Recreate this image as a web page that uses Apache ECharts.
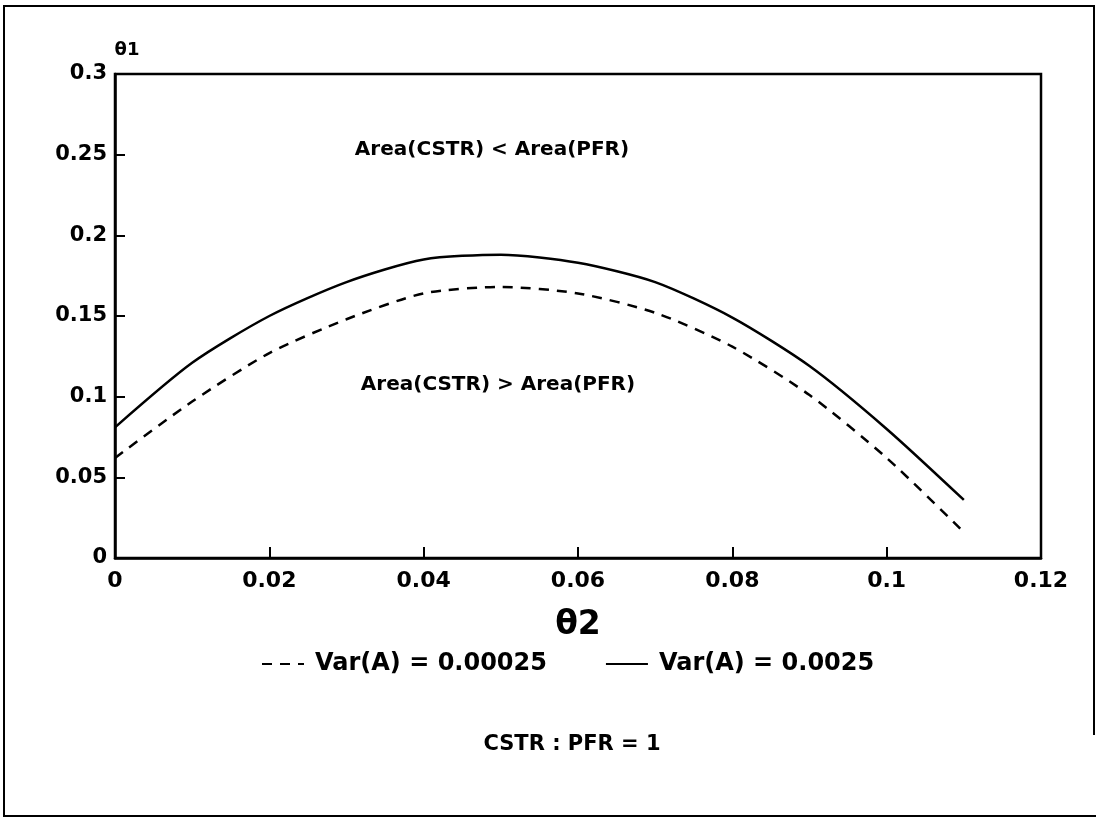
<!DOCTYPE html>
<html>
<head>
<meta charset="utf-8">
<script src="https://cdn.jsdelivr.net/npm/echarts@6/dist/echarts.min.js"></script>
<style>
html,body{margin:0;padding:0;background:#fff;}
#chart{width:1098px;height:820px;}
</style>
</head>
<body>
<div id="chart"></div>
<script>
// ---- data ----
const theta2 = [0, 0.01, 0.02, 0.03, 0.04, 0.05, 0.06, 0.07, 0.08, 0.09, 0.10, 0.11];
const varLow  = [0.062, 0.097, 0.127, 0.148, 0.164, 0.168, 0.164, 0.152, 0.131, 0.101, 0.062, 0.016]; // Var(A) = 0.00025 (dashed)
const varHigh = [0.081, 0.121, 0.150, 0.171, 0.185, 0.188, 0.183, 0.171, 0.149, 0.119, 0.080, 0.036]; // Var(A) = 0.0025 (solid)
const seriesNames = ['Var(A) = 0.00025', 'Var(A) = 0.0025'];
const xTickLabels = ['0', '0.02', '0.04', '0.06', '0.08', '0.1', '0.12'];
const yTickLabels = ['0', '0.05', '0.1', '0.15', '0.2', '0.25', '0.3'];
const regionLabels = ['Area(CSTR) < Area(PFR)', 'Area(CSTR) > Area(PFR)'];
const footnote = 'CSTR : PFR = 1';

const chart = echarts.init(document.getElementById('chart'));
const FONT = '"DejaVu Sans", sans-serif';
const pair = (xs, ys) => xs.map((x, i) => [x, ys[i]]);

chart.setOption({
  backgroundColor: '#ffffff',
  animation: false,
  grid: {
    left: 115, right: 57, top: 74, bottom: 262,
    show: true, borderColor: '#000', borderWidth: 2.5, backgroundColor: 'transparent'
  },
  xAxis: {
    type: 'value', min: 0, max: 0.12, interval: 0.02,
    name: 'θ2', nameLocation: 'middle', nameGap: 51,
    nameTextStyle: { fontFamily: FONT, fontWeight: 'bold', fontSize: 33, color: '#000' },
    axisLine: { lineStyle: { color: '#000', width: 2.5 } },
    axisTick: { inside: true, length: 11, lineStyle: { color: '#000', width: 2 } },
    axisLabel: {
      margin: 12, fontFamily: FONT, fontWeight: 'bold', fontSize: 22, color: '#000',
      formatter: v => xTickLabels[Math.round(v / 0.02)]
    },
    splitLine: { show: false }
  },
  yAxis: {
    type: 'value', min: 0, max: 0.3, interval: 0.05,
    name: 'θ1', nameLocation: 'end', nameGap: 15,
    nameTextStyle: { fontFamily: FONT, fontWeight: 'bold', fontSize: 18, color: '#000', padding: [0, 0, 0, 24] },
    axisLine: { show: true, lineStyle: { color: '#000', width: 2.5 } },
    axisTick: { show: true, inside: true, length: 10, lineStyle: { color: '#000', width: 2 } },
    axisLabel: {
      margin: 8, fontFamily: FONT, fontWeight: 'bold', fontSize: 21, color: '#000',
      formatter: v => yTickLabels[Math.round(v / 0.05)]
    },
    splitLine: { show: false }
  },
  legend: {
    top: 647, left: 256, itemWidth: 42, itemHeight: 14, itemGap: 58,
    itemStyle: { opacity: 0 },
    textStyle: { fontFamily: FONT, fontWeight: 'bold', fontSize: 24, color: '#000', padding: [0, 0, 0, 6] },
    data: seriesNames
  },
  series: [
    {
      name: seriesNames[0], type: 'line', showSymbol: false, symbol: 'none', smooth: 0.25,
      data: pair(theta2, varLow),
      lineStyle: { color: '#000', width: 2.5, type: [10, 8] },
      itemStyle: { color: '#000' }
    },
    {
      name: seriesNames[1], type: 'line', showSymbol: false, symbol: 'none', smooth: 0.25,
      data: pair(theta2, varHigh),
      lineStyle: { color: '#000', width: 2.5, type: 'solid' },
      itemStyle: { color: '#000' }
    }
  ],
  graphic: [
    { type: 'polyline', shape: { points: [[1094, 735], [1094, 6], [4, 6], [4, 816], [1096, 816]] }, style: { fill: 'none', stroke: '#000', lineWidth: 2 } },
    { type: 'text', x: 492, y: 150, style: { text: regionLabels[0], font: 'bold 20px ' + FONT, fill: '#000', textAlign: 'center', textVerticalAlign: 'middle' } },
    { type: 'text', x: 498, y: 385, style: { text: regionLabels[1], font: 'bold 20px ' + FONT, fill: '#000', textAlign: 'center', textVerticalAlign: 'middle' } },
    { type: 'text', x: 572, y: 745, style: { text: footnote, font: 'bold 21px ' + FONT, fill: '#000', textAlign: 'center', textVerticalAlign: 'middle' } }
  ]
});
</script>
</body>
</html>
